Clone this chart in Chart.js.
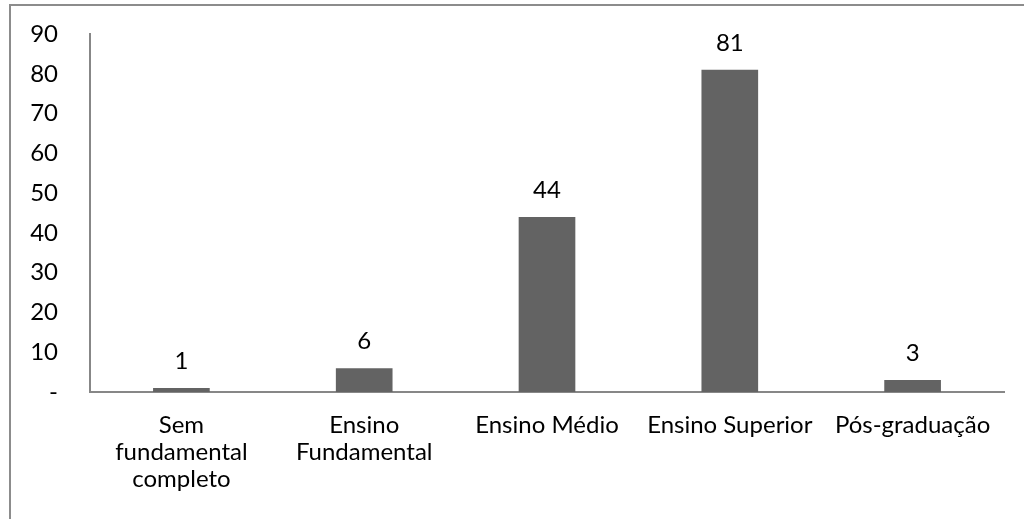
<!DOCTYPE html>
<html>
<head>
<meta charset="utf-8">
<script src="https://cdn.jsdelivr.net/npm/chart.js@4.4.1/dist/chart.umd.min.js"></script>
<style>
  html, body { margin: 0; padding: 0; background: #fff; }
  #wrap { position: relative; width: 1024px; height: 519px; overflow: hidden; }
  #frame { position: absolute; left: 9px; top: 4px; width: 1040px; height: 540px;
           border: 2px solid #8c8c8c; box-sizing: border-box; pointer-events: none; }
  canvas { position: absolute; left: 0; top: 0; }
</style>
</head>
<body>
<div id="wrap">
  <canvas id="chart" width="1024" height="519"></canvas>
  <div id="frame"></div>
</div>
<script>
// Escolaridade dos respondentes
const categories = [
  ['Sem', 'fundamental', 'completo'],
  ['Ensino', 'Fundamental'],
  'Ensino Médio',
  'Ensino Superior',
  'Pós-graduação'
];
const counts = [1, 6, 44, 81, 3];
const yTicks = [0, 10, 20, 30, 40, 50, 60, 70, 80, 90];

const FONT = "Lato, 'Open Sans', sans-serif";
const FONT_SIZE = 24;
const AXIS_COLOR = '#878787';

const valueLabels = {
  id: 'valueLabels',
  afterDatasetsDraw(chart) {
    const ctx = chart.ctx;
    const meta = chart.getDatasetMeta(0);
    ctx.save();
    ctx.font = FONT_SIZE + 'px ' + FONT;
    ctx.fillStyle = '#000';
    ctx.textAlign = 'center';
    ctx.textBaseline = 'middle';
    meta.data.forEach((bar, i) => {
      ctx.fillText(String(counts[i]), bar.x, bar.y - 27);
    });
    ctx.restore();
  }
};

new Chart(document.getElementById('chart'), {
  type: 'bar',
  data: {
    labels: categories,
    datasets: [{
      data: counts,
      backgroundColor: '#636363',
      borderWidth: 0,
      categoryPercentage: 1,
      barPercentage: 0.31
    }]
  },
  options: {
    responsive: false,
    animation: false,
    layout: { padding: { top: 34, right: 20, left: 0, bottom: 0 } },
    plugins: { legend: { display: false }, tooltip: { enabled: false } },
    scales: {
      x: {
        grid: { display: false, drawTicks: false },
        border: { color: AXIS_COLOR, width: 2 },
        ticks: { color: '#000', font: { family: FONT, size: FONT_SIZE, lineHeight: 1.12 },
                 padding: 20, maxRotation: 0, autoSkip: false },
        afterFit(scale) {
          scale.height = 127;
          scale.paddingLeft = 0;
          scale.paddingRight = 0;
        }
      },
      y: {
        min: 0, max: 90,
        afterBuildTicks(scale) { scale.ticks = yTicks.map(v => ({ value: v })); },
        grid: { display: false, drawTicks: false },
        border: { color: AXIS_COLOR, width: 2 },
        ticks: { color: '#000', font: { family: FONT, size: FONT_SIZE }, padding: 32,
                 callback: v => (v === 0 ? '-' : v) },
        afterFit(scale) {
          scale.width = 90;
          scale.paddingTop = 0;
          scale.paddingBottom = 0;
        }
      }
    }
  },
  plugins: [valueLabels]
});
</script>
</body>
</html>
